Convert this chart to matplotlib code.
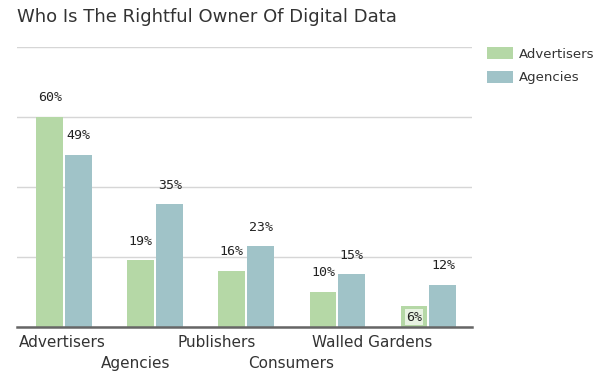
import matplotlib
matplotlib.use("Agg")
import matplotlib.pyplot as plt
import numpy as np

categories = ["Advertisers", "Agencies", "Publishers", "Consumers", "Walled Gardens"]
advertisers = [60, 19, 16, 10, 6]
agencies = [49, 35, 23, 15, 12]
series_names = ["Advertisers", "Agencies"]
yticks = [0, 20, 40, 60, 80]

green = "#b5d8a6"
blue = "#a0c3c8"

fig = plt.figure(figsize=(6, 3.75), dpi=100)
ax = fig.add_axes([0.028, 0.128, 0.759, 0.747])

x = np.arange(len(categories)) + 0.02
w = 0.295
gap = 0.011
b1 = ax.bar(x - w/2 - gap, advertisers, w, color=green, label=series_names[0], zorder=3)
b2 = ax.bar(x + w/2 + gap, agencies, w, color=blue, label=series_names[1], zorder=3)

ax.set_xlim(-0.5, len(categories) - 0.5)
ax.set_ylim(0, 80)
ax.set_yticks(yticks)
ax.yaxis.grid(True, color="#d6d6d6", linewidth=1.0, zorder=0)
ax.tick_params(left=False, labelleft=False, bottom=False, labelbottom=False)
for s in ["left", "right", "top"]:
    ax.spines[s].set_visible(False)
ax.spines["bottom"].set_color("#666666")
ax.spines["bottom"].set_linewidth(1.8)
ax.spines["bottom"].set_zorder(4)

# value labels
lab_font = dict(family="DejaVu Sans Mono", fontsize=9.5, color="#222222")
for bars, vals in ((b1, advertisers), (b2, agencies)):
    for r, v in zip(bars, vals):
        cx = r.get_x() + r.get_width() / 2
        if v < 8:
            ax.annotate(f"{v}%", (cx, v), xytext=(0, -8), textcoords="offset points",
                        ha="center", va="center", zorder=5,
                        bbox=dict(boxstyle="square,pad=0.1", fc="#e8f3e2", ec="none"), **lab_font)
        else:
            ax.annotate(f"{v}%", (cx, v), xytext=(0, 14), textcoords="offset points",
                        ha="center", va="center", zorder=5, **lab_font)

# staggered category labels
for i, c in enumerate(categories):
    lx = i * 0.85 - (0.04 if i % 2 else 0.0)
    off = -11.5 if i % 2 == 0 else -26
    ax.annotate(c, (lx, 0), xytext=(0, off), textcoords="offset points",
                ha="center", va="center", fontsize=11, color="#333333",
                family="DejaVu Sans", annotation_clip=False)

fig.text(0.028, 0.955, "Who Is The Rightful Owner Of Digital Data", fontsize=13,
         color="#333333", ha="left", va="center", family="DejaVu Sans")

leg = ax.legend(loc="upper left", bbox_to_anchor=(1.021, 1.018), frameon=False,
                fontsize=9.5, handlelength=2.0, handleheight=1.05, handletextpad=0.45,
                labelspacing=0.75, borderaxespad=0)
for t in leg.get_texts():
    t.set_color("#333333")

fig.savefig("out.png", dpi=100)
